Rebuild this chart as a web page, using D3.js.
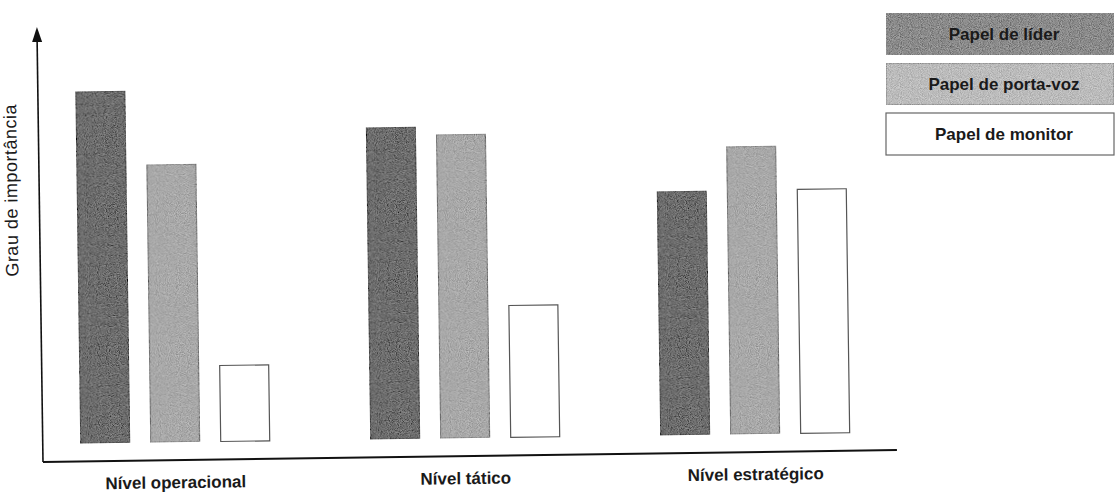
<!DOCTYPE html>
<html>
<head>
<meta charset="utf-8">
<script src="https://cdn.jsdelivr.net/npm/d3@7"></script>
<style>
  body { margin: 0; background: #fff; }
  svg text { font-family: "Liberation Sans", Arial, sans-serif; fill: #1a1a1a; }
</style>
</head>
<body>
<div id="chart"></div>
<script>
// values (arbitrary "importance" units, no ticks on the axis)
var levels = ["Nível operacional", "Nível tático", "Nível estratégico"];
var roles = ["Papel de líder", "Papel de porta-voz", "Papel de monitor"];
var lider = [8.8, 7.8, 6.1];
var portaVoz = [6.95, 7.6, 7.2];
var monitor = [1.9, 3.3, 6.1];

var W = 1115, H = 493;
var fills = ["#6c6c6c", "#a8a8a8", "#ffffff"];
var strokes = ["#505050", "#787878", "#555"];
var legendFills = ["#8a8a8a", "#bbbbbb", "#ffffff"];

var svg = d3.select("#chart").append("svg")
    .attr("width", W)
    .attr("height", H);

// scan grain for the grey boxes
var defs = svg.append("defs");
var grain = defs.append("filter").attr("id", "grain")
    .attr("x", 0).attr("y", 0).attr("width", "100%").attr("height", "100%");
grain.append("feTurbulence")
    .attr("type", "fractalNoise").attr("baseFrequency", 1.1)
    .attr("numOctaves", 1).attr("seed", 4).attr("result", "noise");
grain.append("feColorMatrix").attr("in", "noise").attr("type", "matrix")
    .attr("values", "1 0 0 0 0  1 0 0 0 0  1 0 0 0 0  0 0 0 0 1")
    .attr("result", "gnoise");
grain.append("feComposite").attr("in", "SourceGraphic").attr("in2", "gnoise")
    .attr("operator", "arithmetic")
    .attr("k1", 0).attr("k2", 1).attr("k3", 0.5).attr("k4", -0.25)
    .attr("result", "mix");
grain.append("feComposite").attr("in", "mix").attr("in2", "SourceGraphic")
    .attr("operator", "in");

// the scanned page is a little skewed, so the whole plot is turned slightly
var g = svg.append("g")
    .attr("transform", "translate(43,462) rotate(-0.8)");

var x0 = d3.scaleBand()
    .domain(levels)
    .range([-12.5, 857.5]);

var x1 = d3.scaleBand()
    .domain(roles)
    .range([-105, 105])
    .paddingInner(0.3)
    .paddingOuter(0.15);

var y = d3.scaleLinear()
    .domain([0, 10])
    .range([-18, -418]);

var rows = levels.map(function(lv, i) {
    return { level: lv, values: [lider[i], portaVoz[i], monitor[i]] };
});

var groups = g.selectAll(".grp")
    .data(rows)
    .enter().append("g")
    .attr("class", "grp")
    .attr("transform", function(d) {
        return "translate(" + (x0(d.level) + x0.bandwidth() / 2) + ",0)";
    });

groups.selectAll("rect")
    .data(function(d) {
        return d.values.map(function(v, j) { return { role: roles[j], value: v, j: j }; });
    })
    .enter().append("rect")
    .attr("x", function(d) { return x1(d.role); })
    .attr("y", function(d) { return y(d.value); })
    .attr("width", x1.bandwidth())
    .attr("height", function(d) { return y(0) - y(d.value); })
    .attr("fill", function(d) { return fills[d.j]; })
    .attr("stroke", function(d) { return strokes[d.j]; })
    .attr("stroke-width", 1.2)
    .attr("filter", function(d) { return d.j < 2 ? "url(#grain)" : null; });

// x axis: only the labels from d3, the line drawn by hand
var xAxis = g.append("g")
    .call(d3.axisBottom(x0).tickSize(0).tickPadding(16));
xAxis.select(".domain").remove();
xAxis.selectAll("text")
    .style("font-family", "'Liberation Sans', Arial, sans-serif")
    .style("font-size", "17px")
    .style("font-weight", "bold")
    .attr("fill", "#262626");

g.append("line")
    .attr("x1", 0).attr("y1", 0)
    .attr("x2", 854).attr("y2", 0)
    .attr("stroke", "#111")
    .attr("stroke-width", 2);

// y axis with arrow head
g.append("line")
    .attr("x1", 0).attr("y1", 0)
    .attr("x2", 0).attr("y2", -422)
    .attr("stroke", "#111")
    .attr("stroke-width", 1.6);
g.append("path")
    .attr("d", "M0,-435L-5,-420L5,-420Z")
    .attr("fill", "#111");

g.append("text")
    .attr("transform", "translate(-22,-272) rotate(-90)")
    .attr("text-anchor", "middle")
    .style("font-size", "18px")
    .style("letter-spacing", "0.5px")
    .text("Grau de importância");

// legend boxes at the top right
var legend = svg.append("g")
    .attr("transform", "translate(886,13)");

var item = legend.selectAll(".item")
    .data(roles)
    .enter().append("g")
    .attr("class", "item")
    .attr("transform", function(d, i) { return "translate(0," + (i * 50) + ")"; });

item.append("rect")
    .attr("width", 228)
    .attr("height", 42)
    .attr("fill", function(d, i) { return legendFills[i]; })
    .attr("stroke", function(d, i) { return i < 2 ? "#8a8a8a" : "#666"; })
    .attr("stroke-width", 1.2)
    .attr("filter", function(d, i) { return i < 2 ? "url(#grain)" : null; });

item.append("text")
    .attr("x", 118)
    .attr("y", 27)
    .attr("text-anchor", "middle")
    .style("font-size", "17px")
    .style("font-weight", "bold")
    .attr("fill", "#262626")
    .text(function(d) { return d; });
</script>
</body>
</html>
